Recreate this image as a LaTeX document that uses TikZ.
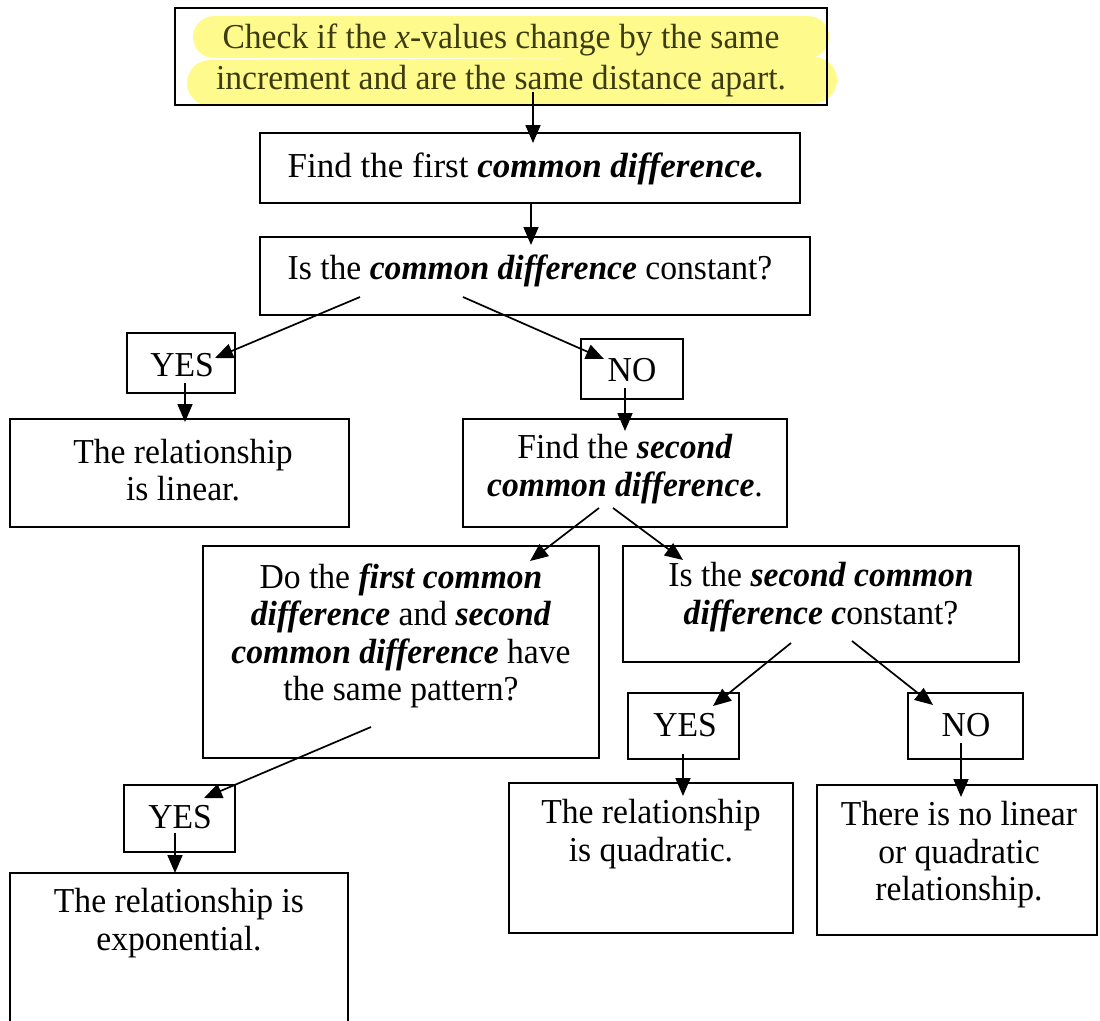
\documentclass[tikz,border=0pt]{standalone}
\usepackage{fontspec}
\setmainfont{Liberation Serif}[FakeStretch=0.96]
\newfontfamily\timesfont{Liberation Serif}
\usetikzlibrary{arrows.meta}
\definecolor{hlyellow}{RGB}{255,250,140}
\definecolor{olivetext}{RGB}{60,60,18}
\tikzset{
  x=1pt, y=-1pt,
  box/.style={draw, line width=1.7pt, inner sep=0pt, outer sep=0pt, anchor=north west},
  txt/.style={align=center, inner sep=0pt, font=\fontsize{35}{37.5}\selectfont},
  arr/.style={line width=1.7pt, -{Triangle[length=18pt,width=15pt]}},
  hl/.style={line width=42pt, line cap=round, draw=hlyellow}
}
\newcommand{\bi}[1]{\textbf{\textit{#1}}}
\begin{document}
\begin{tikzpicture}
\useasboundingbox (0,0) rectangle (1100,1020);
% highlight
\draw[hl] (214,37) -- (808,37);
\draw[hl, line width=46pt] (210,83) -- (814,80);
% boxes
\node[box, minimum width=652pt, minimum height=97pt] (top) at (175,8) {};
\node[box, minimum width=540pt, minimum height=70pt] (b2) at (260,133) {};
\node[box, minimum width=550pt, minimum height=78pt] (b3) at (260,237) {};
\node[box, minimum width=108pt, minimum height=60pt] (yes1) at (127,333) {};
\node[box, minimum width=102pt, minimum height=60pt] (no1) at (581,339) {};
\node[box, minimum width=339pt, minimum height=108pt] (lin) at (10,419) {};
\node[box, minimum width=324pt, minimum height=108pt] (f2) at (463,419) {};
\node[box, minimum width=396pt, minimum height=212pt] (q1) at (203,546) {};
\node[box, minimum width=396pt, minimum height=116pt] (q2) at (623,546) {};
\node[box, minimum width=111pt, minimum height=66pt] (yes2) at (628,693) {};
\node[box, minimum width=115pt, minimum height=66pt] (no2) at (908,693) {};
\node[box, minimum width=284pt, minimum height=150pt] (quad) at (509,783) {};
\node[box, minimum width=280pt, minimum height=150pt] (norel) at (817,785) {};
\node[box, minimum width=111pt, minimum height=67pt] (yes3) at (124,785) {};
\node[box, minimum width=338pt, minimum height=170pt] (expo) at (10,873) {};
% texts
\node[txt, text=olivetext, font=\fontsize{35}{41}\selectfont] (ttop) at (501,60) {Check if the \textit{x}-values change by the same\\increment and are the same distance apart.};
\node[txt, font=\fontsize{35}{36}\timesfont] (tb2) at (526,169) {Find the first \bi{common difference.}};
\node[txt] (tb3) at (530,271) {Is the \bi{common difference} constant?};
\node[txt] (tyes1) at (182,365) {YES};
\node[txt] (tno1) at (632,370) {NO};
\node[txt] (tlin) at (183,470) {The relationship\\is linear.};
\node[txt] (tf2) at (625,469) {Find the \bi{second}\\\bi{common difference}.};
\node[txt] (tq1) at (401,636) {Do the \bi{first common}\\\bi{difference} and \bi{second}\\\bi{common difference} have\\the same pattern?};
\node[txt] (tq2) at (821,597) {Is the \bi{second common}\\\bi{difference c}onstant?};
\node[txt] (tyes2) at (685,725) {YES};
\node[txt] (tno2) at (966,725) {NO};
\node[txt] (tquad) at (651,834) {The relationship\\is quadratic.};
\node[txt] (tnorel) at (959,855) {There is no linear\\or quadratic\\relationship.};
\node[txt] (tyes3) at (180,817) {YES};
\node[txt] (texpo) at (179,923) {The relationship is\\exponential.};
% connector end points
\coordinate (s1) at (533,92);  \coordinate (e1) at (533,143);
\coordinate (s2) at (531,204); \coordinate (e2) at (531,245);
\coordinate (s3) at (360,297); \coordinate (e3) at (215,358);
\coordinate (s4) at (463,297); \coordinate (e4) at (604,359);
\coordinate (s5) at (185,383); \coordinate (e5) at (185,422);
\coordinate (s6) at (625,388); \coordinate (e6) at (625,431);
\coordinate (s7) at (599,508); \coordinate (e7) at (530,561);
\coordinate (s8) at (613,508); \coordinate (e8) at (683,560);
\coordinate (s9) at (791,643); \coordinate (e9) at (713,706);
\coordinate (s10) at (852,641); \coordinate (e10) at (933,705);
\coordinate (s11) at (683,754); \coordinate (e11) at (683,796);
\coordinate (s12) at (961,743); \coordinate (e12) at (961,797);
\coordinate (s13) at (371,727); \coordinate (e13) at (204,798);
\coordinate (s14) at (175,833); \coordinate (e14) at (175,873);
\foreach \i in {1,...,14} {\draw[arr] (s\i) -- (e\i);}
\end{tikzpicture}
\end{document}
